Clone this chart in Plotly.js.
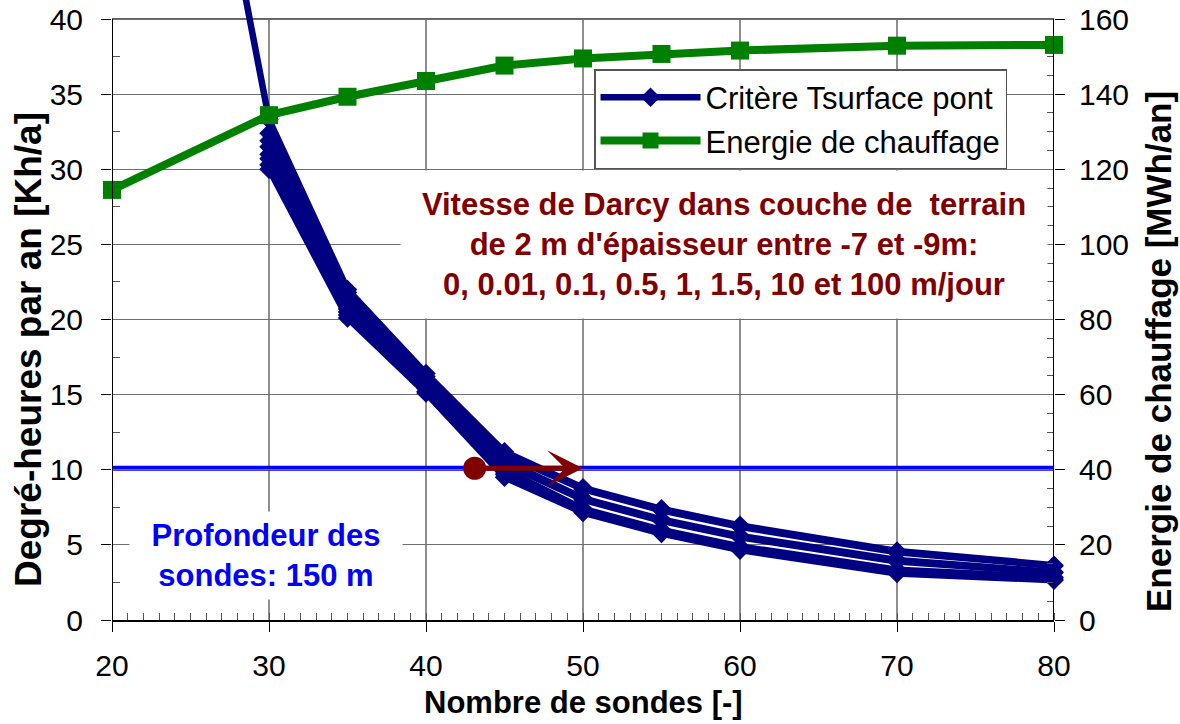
<!DOCTYPE html>
<html>
<head>
<meta charset="utf-8">
<script src="https://cdn.plot.ly/plotly-3.0.1.min.js"></script>
<style>
  html, body { margin: 0; padding: 0; background: #ffffff; }
  #chart { width: 1180px; height: 724px; }
</style>
</head>
<body>
<div id="chart"></div>
<script>
// Nombre de sondes (axe X)
const sondes = [30, 35, 40, 45, 50, 55, 60, 70, 80];
const sondesAvec25 = [25, 30, 35, 40, 45, 50, 55, 60, 70, 80];
const sondesEnergie = [20, 30, 35, 40, 45, 50, 55, 60, 70, 80];

// Energie de chauffage [MWh/an] (axe de droite)
const energieChauffage = [114.5, 134.4, 139.3, 143.5, 147.6, 149.5, 150.7, 151.6, 152.9, 153.1];

// Critère Tsurface pont [Kh/a] pour chaque vitesse de Darcy (m/jour)
const critere_v0    = [60.5, 33.3, 22.0, 16.4, 11.2, 8.8, 7.4, 6.3, 4.6, 3.65];
const critere_v001  = [32.4, 21.8, 16.2, 11.0, 8.7, 7.3, 6.2, 4.5, 3.6];
const critere_v01   = [31.9, 21.4, 15.9, 10.6, 8.1, 6.7, 5.6, 4.0, 3.2];
const critere_v05   = [31.5, 21.2, 15.7, 10.4, 8.0, 6.6, 5.5, 3.9, 3.15];
const critere_v1    = [31.0, 20.7, 15.5, 10.0, 7.4, 6.0, 4.9, 3.35, 2.85];
const critere_v15   = [30.7, 20.5, 15.4, 9.9, 7.3, 5.9, 4.8, 3.25, 2.8];
const critere_v10   = [30.3, 20.3, 15.2, 9.7, 7.2, 5.8, 4.7, 3.2, 2.7];
const critere_v100  = [30.0, 20.1, 15.1, 9.5, 7.15, 5.75, 4.65, 3.1, 2.65];

// Seuil du critère et déplacement indiqué par la flèche
const seuilCritere = 10.1;
const flecheDepart = 43.1;
const flecheArrivee = 50;

// Bornes des axes : le cadre s'arrête à 40 Kh/a / 160 MWh/an,
// la zone de tracé monte un peu plus haut pour laisser sortir la courbe.
const xMin = 20, xMax = 80;
const yCadre = 40, y2Cadre = 160;
const yHaut = 41.265;
const y2Haut = y2Cadre * yHaut / yCadre;

const FONT = 'Liberation Sans, Arial, Helvetica, sans-serif';
const NAVY = '#000080';
const GREEN = '#008000';
const DARKRED = '#800000';
const BLUE = '#0000ff';

const critereSeries = [
  { name: '0', x: sondesAvec25, y: critere_v0 },
  { name: '0.01', x: sondes, y: critere_v001 },
  { name: '0.1', x: sondes, y: critere_v01 },
  { name: '0.5', x: sondes, y: critere_v05 },
  { name: '1', x: sondes, y: critere_v1 },
  { name: '1.5', x: sondes, y: critere_v15 },
  { name: '10', x: sondes, y: critere_v10 },
  { name: '100', x: sondes, y: critere_v100 }
];

const traces = critereSeries.map((s, i) => ({
  type: 'scatter',
  mode: 'lines+markers',
  x: s.x,
  y: s.y,
  name: i === 0 ? 'Critère Tsurface pont' : 'v = ' + s.name + ' m/jour',
  legendgroup: 'critere',
  showlegend: i === 0,
  line: { color: NAVY, width: 6.5 },
  marker: { symbol: 'diamond', size: 15, color: NAVY },
  cliponaxis: false,
  hoverinfo: 'x+y'
}));

traces.push({
  type: 'scatter',
  mode: 'lines+markers',
  x: sondesEnergie,
  y: energieChauffage,
  yaxis: 'y2',
  name: 'Energie de chauffage',
  line: { color: GREEN, width: 8 },
  marker: { symbol: 'square', size: 18, color: GREEN },
  cliponaxis: false
});

// Point de départ de la flèche
traces.push({
  type: 'scatter',
  mode: 'markers',
  x: [flecheDepart],
  y: [seuilCritere],
  showlegend: false,
  marker: { symbol: 'circle', size: 23, color: DARKRED },
  cliponaxis: false,
  hoverinfo: 'skip'
});

// Graduations secondaires (limitées au cadre)
const mineursY = [];
for (let v = 2.5; v < yCadre; v += 5) mineursY.push(v);
const mineursY2 = [];
for (let v = 5; v < y2Cadre; v += 5) if (v % 20 !== 0) mineursY2.push(v);

// Quadrillage vertical et cadre, arrêtés à la limite haute du cadre
const shapes = [];
for (let gx = xMin + 10; gx < xMax; gx += 10) {
  shapes.push({ type: 'line', xref: 'x', yref: 'y', x0: gx, x1: gx, y0: 0, y1: yCadre,
    layer: 'below', line: { color: '#1f1f1f', width: 1 } });
}
shapes.push(
  { type: 'line', xref: 'x', yref: 'y', x0: xMin, x1: xMax, y0: yCadre, y1: yCadre,
    layer: 'below', line: { color: '#606060', width: 2 } },
  { type: 'line', xref: 'x', yref: 'y', x0: xMin, x1: xMin, y0: 0, y1: yCadre,
    layer: 'above', line: { color: '#000000', width: 2 } },
  { type: 'line', xref: 'x', yref: 'y', x0: xMax, x1: xMax, y0: 0, y1: yCadre,
    layer: 'above', line: { color: '#000000', width: 2 } },
  // seuil du critère
  { type: 'line', xref: 'paper', yref: 'y', x0: 0, x1: 1, y0: seuilCritere, y1: seuilCritere,
    layer: 'between', line: { color: BLUE, width: 5 } }
);

const layout = {
  width: 1180,
  height: 724,
  margin: { l: 112, r: 126, t: 0, b: 104 },
  paper_bgcolor: '#ffffff',
  plot_bgcolor: '#ffffff',
  font: { family: FONT, color: '#000000', size: 30 },
  showlegend: true,
  legend: {
    x: 0.5117, y: 0.8887, xanchor: 'left', yanchor: 'top',
    bgcolor: '#ffffff', bordercolor: '#555555', borderwidth: 1.5,
    font: { family: FONT, size: 31, color: '#000000' },
    itemwidth: 100,
    traceorder: 'normal'
  },
  xaxis: {
    range: [xMin, xMax], tick0: xMin, dtick: 10,
    showgrid: false,
    zeroline: false,
    showline: true, linecolor: '#000000', linewidth: 2,
    ticks: 'outside', ticklen: 10, tickcolor: '#000000', tickwidth: 1,
    ticklabelstandoff: 8,
    tickfont: { family: FONT, size: 30, color: '#000000' },
    minor: { dtick: 1, ticks: 'inside', ticklen: 7, tickcolor: '#555555', showgrid: false }
  },
  yaxis: {
    range: [0, yHaut], tick0: 0, dtick: 5,
    showgrid: true, gridcolor: '#707070', gridwidth: 1,
    zeroline: false,
    showline: false,
    ticks: 'outside', ticklen: 10, tickcolor: '#000000', tickwidth: 1,
    ticklabelstandoff: 12,
    tickfont: { family: FONT, size: 30, color: '#000000' },
    minor: { tickmode: 'array', tickvals: mineursY, ticks: 'inside', ticklen: 8, tickcolor: '#555555', showgrid: false }
  },
  yaxis2: {
    overlaying: 'y', side: 'right',
    range: [0, y2Haut], tick0: 0, dtick: 20,
    showgrid: false, zeroline: false,
    showline: false,
    ticks: 'outside', ticklen: 10, tickcolor: '#000000', tickwidth: 1,
    ticklabelstandoff: 8,
    tickfont: { family: FONT, size: 30, color: '#000000' },
    minor: { tickmode: 'array', tickvals: mineursY2, ticks: 'inside', ticklen: 7, tickcolor: '#555555', showgrid: false }
  },
  shapes: shapes,
  annotations: [
    {
      xref: 'paper', yref: 'paper', x: 0.6497, y: 0.6056,
      xanchor: 'center', yanchor: 'middle',
      width: 646, height: 147, borderpad: 0,
      bgcolor: '#ffffff', showarrow: false, align: 'center',
      text: "<b>Vitesse de Darcy dans couche de  terrain<br>de 2 m d'épaisseur entre -7 et -9m:<br>0, 0.01, 0.1, 0.5, 1, 1.5, 10 et 100 m/jour</b>",
      font: { family: FONT, size: 31, color: DARKRED }
    },
    {
      xref: 'paper', yref: 'paper', x: 0.1635, y: 0.1040,
      xanchor: 'center', yanchor: 'middle',
      width: 272, height: 87, borderpad: 0,
      bgcolor: '#ffffff', showarrow: false, align: 'center',
      text: '<b>Profondeur des<br>sondes: 150 m</b>',
      font: { family: FONT, size: 31, color: BLUE }
    },
    {
      xref: 'x', yref: 'y', axref: 'x', ayref: 'y',
      x: flecheArrivee, y: seuilCritere, ax: flecheDepart, ay: seuilCritere,
      text: '', showarrow: true, arrowhead: 3, arrowsize: 1.2, arrowwidth: 5,
      arrowcolor: DARKRED, standoff: 0
    },
    // titres des axes
    {
      xref: 'paper', yref: 'paper', x: 0, y: 0.5, xshift: -84, yshift: -40,
      xanchor: 'center', yanchor: 'middle', textangle: -90, showarrow: false,
      text: '<b>Degré-heures par an [Kh/a]</b>',
      font: { family: FONT, size: 37, color: '#000000' }
    },
    {
      xref: 'paper', yref: 'paper', x: 1, y: 0.5, xshift: 104, yshift: -42,
      xanchor: 'center', yanchor: 'middle', textangle: -90, showarrow: false,
      text: '<b>Energie de chauffage [MWh/an]</b>',
      font: { family: FONT, size: 35, color: '#000000' }
    },
    {
      xref: 'paper', yref: 'paper', x: 0.5, y: 0, yshift: -82,
      xanchor: 'center', yanchor: 'middle', showarrow: false,
      text: '<b>Nombre de sondes [-]</b>',
      font: { family: FONT, size: 31, color: '#000000' }
    }
  ]
};

Plotly.newPlot('chart', traces, layout, { displayModeBar: false, staticPlot: true });
</script>
</body>
</html>
